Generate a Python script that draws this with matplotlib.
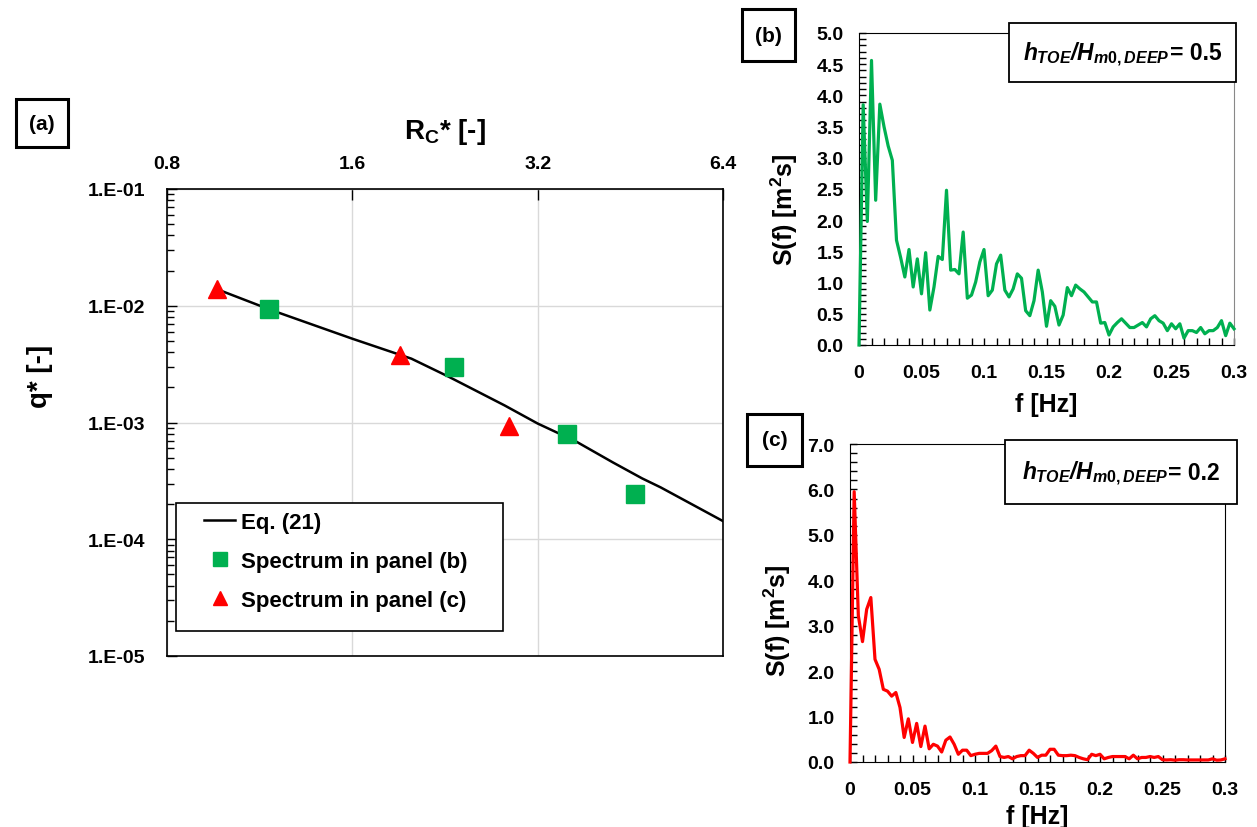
import numpy as np
import matplotlib
matplotlib.use('Agg')
import matplotlib.pyplot as plt
from matplotlib.patches import Rectangle
from matplotlib.lines import Line2D
from matplotlib.ticker import (MultipleLocator, FuncFormatter, LogLocator,
                               NullLocator, NullFormatter, FixedLocator)

plt.rcParams.update({
    'font.family': ['Liberation Sans', 'DejaVu Sans'],
    'font.weight': 'bold',
    'axes.labelweight': 'bold',
    'mathtext.fontset': 'custom',
    'mathtext.rm': 'Liberation Sans:bold',
    'mathtext.it': 'Liberation Sans:italic:bold',
    'mathtext.bf': 'Liberation Sans:bold',
})

# ---------------- data: panel (a) ----------------
rc_ticks = [0.8, 1.6, 3.2, 6.4]
eq_x = [0.97, 1.177, 1.6, 1.996, 2.293, 2.828, 3.2, 3.69, 4.24, 4.73, 5.07, 6.4]
eq_y = [0.0137, 0.00925, 0.00522, 0.00352, 0.00247, 0.0014, 0.00098,
        0.00069, 0.000455, 0.000332, 0.000278, 0.000143]
sq_x = [1.172, 2.344, 3.57, 4.6]
sq_y = [0.0094, 0.00301, 0.00079, 0.000243]
tri_x = [0.964, 1.915, 2.88]
tri_y = [0.0140, 0.0038, 0.00094]

# ---------------- data: panel (b) ----------------
df = 1.0 / 300.0
Sb = [0.0, 3.85, 1.98, 4.56, 2.32, 3.86, 3.5, 3.19, 2.96, 1.68,
      1.4, 1.09, 1.53, 0.93, 1.38, 0.82, 1.48, 0.56, 0.93, 1.42,
      1.37, 2.48, 1.2, 1.21, 1.14, 1.81, 0.75, 0.80, 1.01, 1.33,
      1.53, 0.79, 0.88, 1.30, 1.44, 0.88, 0.77, 0.90, 1.14, 1.07,
      0.55, 0.47, 0.71, 1.20, 0.85, 0.30, 0.71, 0.62, 0.32, 0.48,
      0.92, 0.79, 0.96, 0.90, 0.85, 0.77, 0.69, 0.69, 0.35, 0.36,
      0.16, 0.29, 0.36, 0.42, 0.35, 0.28, 0.28, 0.32, 0.36, 0.29,
      0.42, 0.47, 0.39, 0.35, 0.23, 0.34, 0.26, 0.34, 0.11, 0.23,
      0.23, 0.20, 0.28, 0.18, 0.23, 0.23, 0.28, 0.39, 0.15, 0.35,
      0.26]
fb = [i * df for i in range(len(Sb))]

# ---------------- data: panel (c) ----------------
Sc = [0.0, 5.95, 3.22, 2.65, 3.36, 3.62, 2.26, 2.04, 1.60, 1.56,
      1.45, 1.53, 1.20, 0.54, 0.95, 0.43, 0.85, 0.34, 0.79, 0.29,
      0.39, 0.35, 0.22, 0.48, 0.55, 0.39, 0.17, 0.26, 0.26, 0.14,
      0.17, 0.19, 0.19, 0.19, 0.25, 0.35, 0.12, 0.10, 0.12, 0.07,
      0.12, 0.14, 0.14, 0.26, 0.19, 0.10, 0.15, 0.15, 0.28, 0.28,
      0.15, 0.14, 0.14, 0.15, 0.14, 0.10, 0.07, 0.05, 0.17, 0.14,
      0.17, 0.07, 0.10, 0.12, 0.12, 0.12, 0.12, 0.07, 0.15, 0.07,
      0.10, 0.10, 0.12, 0.10, 0.12, 0.05, 0.045, 0.05, 0.04, 0.05,
      0.05, 0.045, 0.045, 0.045, 0.045, 0.045, 0.045, 0.07, 0.04, 0.045,
      0.07]
fc = [i * df for i in range(len(Sc))]

ratio_labels = ['= 0.5', '= 0.2']

GREEN = '#00B050'
RED = '#FF0000'

W, H = 1257, 828


def fx(px):
    return px / W


def fy(py):
    return 1 - py / H


fig = plt.figure(figsize=(W / 100, H / 100), dpi=100)

# ================= panel (a) =================
axA = fig.add_axes([fx(167), fy(657), (723 - 167) / W, (657 - 190) / H])
axA.set_xscale('log', base=2)
axA.set_yscale('log')
axA.set_xlim(0.8, 6.4)
axA.set_ylim(1e-5, 1e-1)
axA.set_axisbelow(True)
axA.grid(True, which='major', color='#d9d9d9', lw=1.0)
axA.plot(eq_x, eq_y, color='black', lw=1.8, zorder=3)
axA.plot(sq_x, sq_y, 's', color=GREEN, ms=12.5, ls='none', zorder=4)
axA.plot(tri_x, tri_y, '^', color=RED, ms=13.5, ls='none', zorder=4)

axA.xaxis.tick_top()
axA.xaxis.set_major_locator(FixedLocator(rc_ticks))
axA.xaxis.set_minor_locator(NullLocator())
axA.xaxis.set_major_formatter(FuncFormatter(lambda v, p: f'{v:.1f}'))
axA.tick_params(axis='x', which='major', direction='in', length=8, width=1,
                pad=12, labelsize=14, top=True, bottom=False,
                labeltop=True, labelbottom=False)
axA.yaxis.set_major_locator(LogLocator(base=10, numticks=10))
axA.yaxis.set_minor_locator(LogLocator(base=10, subs=np.arange(2, 10), numticks=20))
axA.yaxis.set_minor_formatter(NullFormatter())
axA.yaxis.set_major_formatter(
    FuncFormatter(lambda v, p: f"1.E{int(round(np.log10(v))):+03d}"))
axA.tick_params(axis='y', which='major', direction='in', length=7, width=1,
                pad=16, labelsize=14, left=True, right=False)
axA.tick_params(axis='y', which='minor', direction='in', length=5, width=1,
                left=True, right=False)
for s in axA.spines.values():
    s.set_linewidth(1.2)

axA.set_ylabel('q* [-]', fontsize=20)
axA.yaxis.set_label_coords(-0.205, 0.60)
axA.xaxis.set_label_position('top')
axA.set_xlabel(r'R$_\mathrm{C}$* [-]', fontsize=20)
axA.xaxis.set_label_coords(0.5, 1.109)

# legend frame (manual) and legend entries
leg_rect = Rectangle((fx(176), fy(632)), (503 - 176) / W, (632 - 504) / H,
                     transform=fig.transFigure, facecolor='white',
                     edgecolor='black', lw=1.2, zorder=5)
axA.add_patch(leg_rect)
handles = [Line2D([], [], color='black', lw=1.8),
           Line2D([], [], marker='s', color=GREEN, ls='none', ms=9.5),
           Line2D([], [], marker='^', color=RED, ls='none', ms=10)]
labels = ['Eq. (21)', 'Spectrum in panel (b)', 'Spectrum in panel (c)']
leg = axA.legend(handles, labels, loc='upper left',
                 bbox_to_anchor=((204 - 167) / 556, (657 - 513) / 467),
                 frameon=False, borderpad=0, borderaxespad=0,
                 handlelength=1.4, handletextpad=0.25, labelspacing=0.8,
                 prop={'size': 16, 'weight': 'bold'})
leg.set_zorder(6)

# ================= panel (b) =================
axB = fig.add_axes([fx(859), fy(346), (1234 - 859) / W, (346 - 34) / H])
axB.plot(fb, Sb, color=GREEN, lw=2.3, clip_on=False, zorder=3)
axB.set_xlim(0, 0.3)
axB.set_ylim(0, 5.0)
axB.xaxis.set_major_locator(MultipleLocator(0.05))
axB.xaxis.set_minor_locator(MultipleLocator(0.01))
axB.yaxis.set_major_locator(MultipleLocator(0.5))
axB.yaxis.set_minor_locator(MultipleLocator(0.1))
axB.xaxis.set_major_formatter(FuncFormatter(lambda v, p: '0' if abs(v) < 1e-9 else f'{v:g}'))
axB.yaxis.set_major_formatter(FuncFormatter(lambda v, p: f'{v:.1f}'))
axB.tick_params(axis='both', which='both', direction='in', length=5, width=1,
                labelsize=14, top=False, right=False)
axB.tick_params(axis='x', which='major', pad=14)
axB.tick_params(axis='y', which='major', pad=11)
axB.spines['right'].set_color('#888888')
axB.set_xlabel('f [Hz]', fontsize=18)
axB.xaxis.set_label_coords(0.5, -0.151)
axB.xaxis.label.set_va('top')
axB.set_ylabel(r'S(f) [m$^{2}$s]', fontsize=18)
axB.yaxis.set_label_coords(-0.157, 0.436)

# ================= panel (c) =================
axC = fig.add_axes([fx(850), fy(763), (1225 - 850) / W, (763 - 445) / H])
axC.plot(fc, Sc, color=RED, lw=2.3, clip_on=False, zorder=3)
axC.set_xlim(0, 0.3)
axC.set_ylim(0, 7.0)
axC.xaxis.set_major_locator(MultipleLocator(0.05))
axC.xaxis.set_minor_locator(MultipleLocator(0.01))
axC.yaxis.set_major_locator(MultipleLocator(1.0))
axC.yaxis.set_minor_locator(MultipleLocator(0.2))
axC.xaxis.set_major_formatter(FuncFormatter(lambda v, p: '0' if abs(v) < 1e-9 else f'{v:g}'))
axC.yaxis.set_major_formatter(FuncFormatter(lambda v, p: f'{v:.1f}'))
axC.tick_params(axis='both', which='both', direction='in', length=5, width=1,
                labelsize=14, top=False, right=False)
axC.tick_params(axis='x', which='major', pad=14)
axC.tick_params(axis='y', which='major', pad=11)
axC.set_xlabel('f [Hz]', fontsize=18)
axC.xaxis.set_label_coords(0.5, -0.132)
axC.xaxis.label.set_va('top')
axC.set_ylabel(r'S(f) [m$^{2}$s]', fontsize=18)
axC.yaxis.set_label_coords(-0.152, 0.448)


# ================= boxes =================
def rect(x0, y0, x1, y1, lw):
    fig.add_artist(Rectangle((fx(x0), fy(y1)), (x1 - x0) / W, (y1 - y0) / H,
                             transform=fig.transFigure, facecolor='white',
                             edgecolor='black', lw=lw, zorder=10))


def box(x0, y0, x1, y1, text, fs, lw):
    rect(x0, y0, x1, y1, lw)
    fig.text(fx((x0 + x1) / 2), fy((y0 + y1) / 2), text, ha='center',
             va='center', fontsize=fs, fontweight='bold', zorder=11)


renderer = fig.canvas.get_renderer()


def ratio_box(x0, y0, x1, y1, value_text, fs, lw):
    rect(x0, y0, x1, y1, lw)
    yc = fy((y0 + y1) / 2)
    t1 = fig.text(0, yc, r'$\mathit{h_{TOE}}$/$\mathit{H_{m0,DEEP}}$',
                  ha='left', va='baseline', fontsize=fs, fontweight='bold',
                  fontstyle='italic', zorder=11)
    t2 = fig.text(0, yc, value_text, ha='left', va='baseline', fontsize=fs,
                  fontweight='bold', zorder=11)
    w1 = t1.get_window_extent(renderer).width
    w2 = t2.get_window_extent(renderer).width
    total = w1 + w2
    start = (x0 + x1) / 2 - total / 2
    base = fy((y0 + y1) / 2 + 7)
    t1.set_position((fx(start), base))
    t2.set_position((fx(start + w1), base))


box(16, 100, 68, 148, '(a)', 15, 2.2)
box(742, 10, 795, 62, '(b)', 15, 2.2)
box(747, 415, 802, 467, '(c)', 15, 2.2)
ratio_box(1009, 24, 1236, 83, ratio_labels[0], 16.5, 1.3)
ratio_box(1005, 441, 1237, 505, ratio_labels[1], 16.5, 1.3)

fig.savefig('out.png', dpi=100)
